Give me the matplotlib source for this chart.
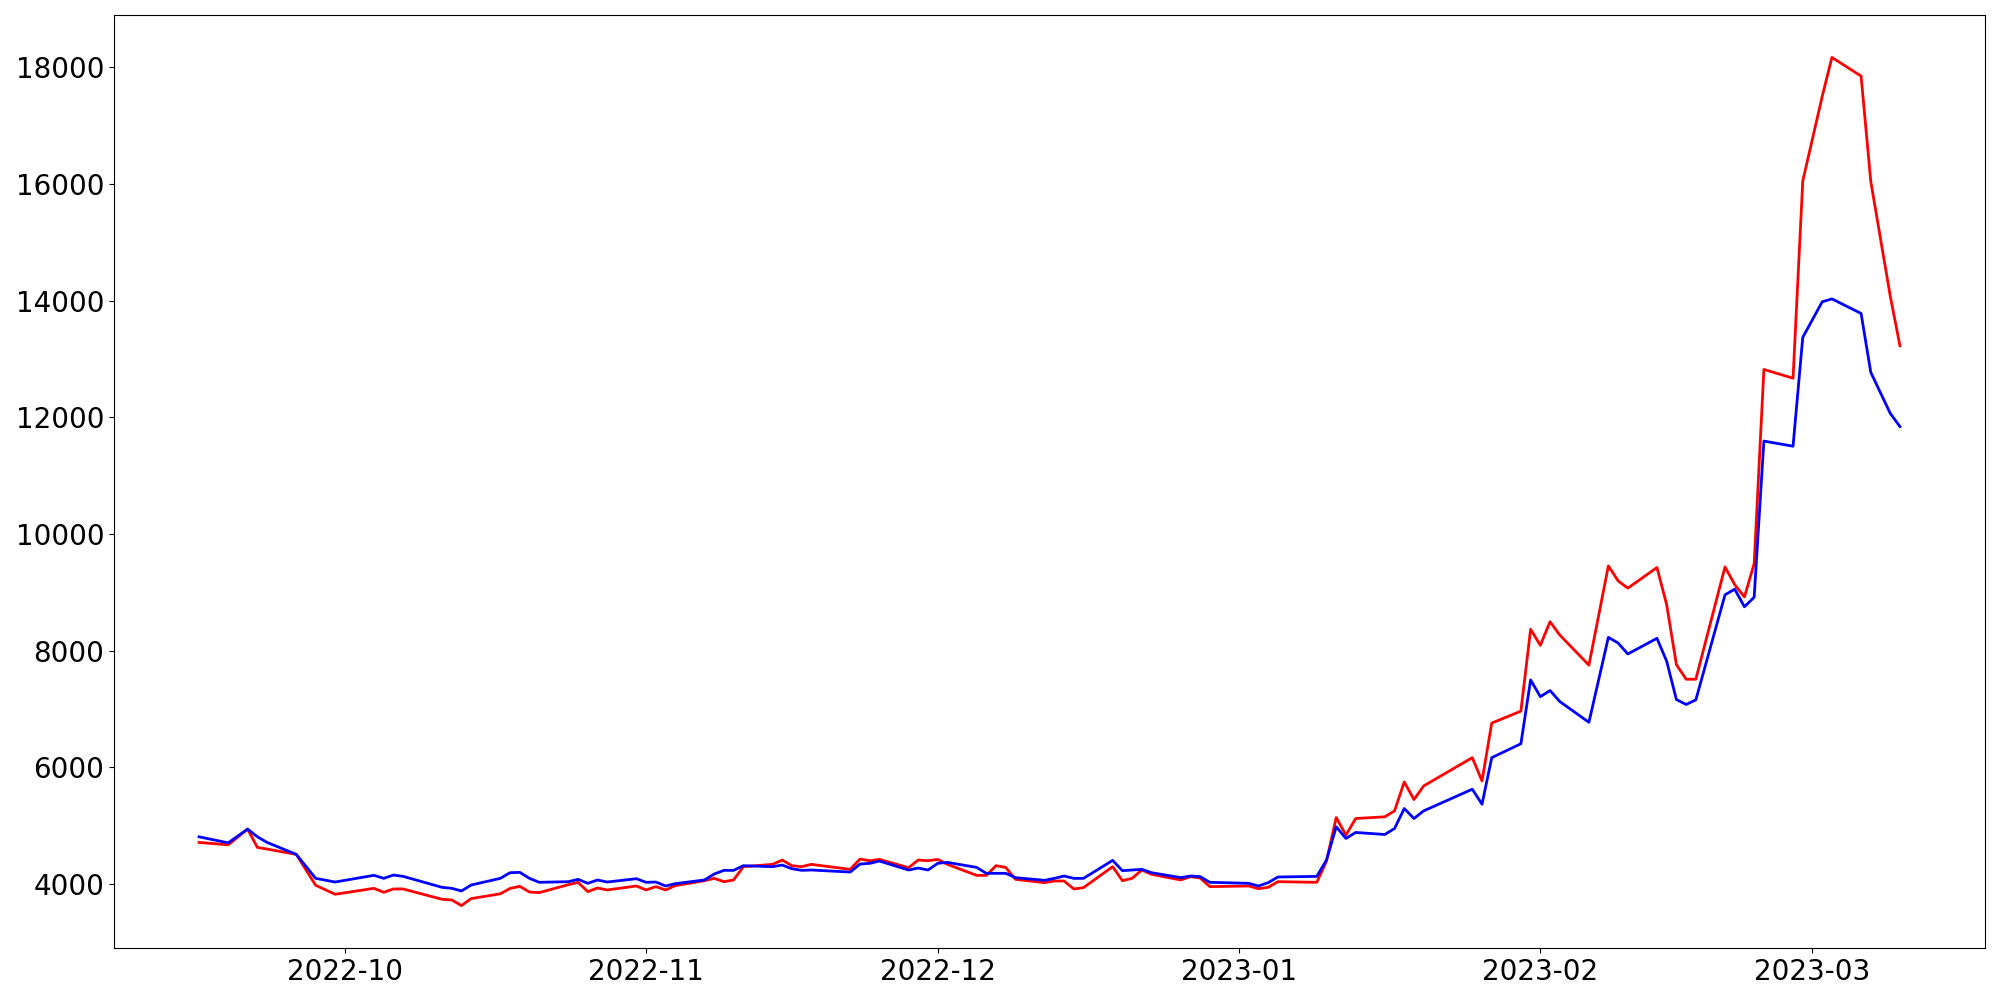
import pandas as pd
import matplotlib
matplotlib.use("Agg")
import matplotlib.pyplot as plt
import matplotlib.dates as mdates

# trading days
dates = [
    "2022-09-16", "2022-09-19", "2022-09-21", "2022-09-22", "2022-09-23",
    "2022-09-26", "2022-09-28", "2022-09-30", "2022-10-04", "2022-10-05",
    "2022-10-06", "2022-10-07", "2022-10-11", "2022-10-12", "2022-10-13",
    "2022-10-14", "2022-10-17", "2022-10-18", "2022-10-19", "2022-10-20",
    "2022-10-21", "2022-10-24", "2022-10-25", "2022-10-26", "2022-10-27",
    "2022-10-28", "2022-10-31", "2022-11-01", "2022-11-02", "2022-11-03",
    "2022-11-04", "2022-11-07", "2022-11-08", "2022-11-09", "2022-11-10",
    "2022-11-11", "2022-11-14", "2022-11-15", "2022-11-16", "2022-11-17",
    "2022-11-18", "2022-11-22", "2022-11-23", "2022-11-24", "2022-11-25",
    "2022-11-28", "2022-11-29", "2022-11-30", "2022-12-01", "2022-12-02",
    "2022-12-05", "2022-12-06", "2022-12-07", "2022-12-08", "2022-12-09",
    "2022-12-12", "2022-12-13", "2022-12-14", "2022-12-15", "2022-12-16",
    "2022-12-19", "2022-12-20", "2022-12-21", "2022-12-22", "2022-12-23",
    "2022-12-26", "2022-12-27", "2022-12-28", "2022-12-29", "2023-01-02",
    "2023-01-03", "2023-01-04", "2023-01-05", "2023-01-09", "2023-01-10",
    "2023-01-11", "2023-01-12", "2023-01-13", "2023-01-16", "2023-01-17",
    "2023-01-18", "2023-01-19", "2023-01-20", "2023-01-25", "2023-01-26",
    "2023-01-27", "2023-01-30", "2023-01-31", "2023-02-01", "2023-02-02",
    "2023-02-03", "2023-02-06", "2023-02-08", "2023-02-09", "2023-02-10",
    "2023-02-13", "2023-02-14", "2023-02-15", "2023-02-16", "2023-02-17",
    "2023-02-20", "2023-02-21", "2023-02-22", "2023-02-23", "2023-02-24",
    "2023-02-27", "2023-02-28", "2023-03-02", "2023-03-03", "2023-03-06",
    "2023-03-07", "2023-03-09", "2023-03-10",
]

red_vals = [
    4711, 4670, 4939, 4626, 4597,
    4506, 3976, 3822, 3924, 3856,
    3913, 3913, 3736, 3725, 3628,
    3748, 3830, 3922, 3958, 3861,
    3850, 3987, 4027, 3867, 3930,
    3896, 3964, 3896, 3953, 3896,
    3970, 4055, 4095, 4038, 4067,
    4295, 4335, 4409, 4312, 4295,
    4335, 4249, 4426, 4397, 4420,
    4278, 4409, 4397, 4420, 4335,
    4146, 4146, 4312, 4283, 4078,
    4021, 4050, 4050, 3913, 3936,
    4295, 4055, 4095, 4238, 4164,
    4067, 4124, 4101, 3953, 3964,
    3918, 3941, 4038, 4027, 4392,
    5138, 4836, 5121, 5150, 5252,
    5748, 5446, 5680, 6164, 5765,
    6757, 6962, 8366, 8090, 8495,
    8267, 7750, 9452, 9196, 9070,
    9424, 8785, 7760, 7509, 7509,
    9435, 9130, 8920, 9490, 12820,
    12670, 16050, 17500, 18170, 17850,
    16040, 14080, 13225,
]

blue_vals = [
    4807, 4704, 4939, 4808, 4711,
    4506, 4095, 4032, 4147, 4095,
    4152, 4129, 3941, 3924, 3879,
    3981, 4095, 4192, 4198, 4095,
    4027, 4038, 4078, 4010, 4067,
    4032, 4089, 4027, 4032, 3964,
    4004, 4067, 4169, 4232, 4232,
    4312, 4295, 4323, 4260, 4232,
    4238, 4203, 4340, 4352, 4392,
    4238, 4272, 4238, 4352, 4369,
    4283, 4181, 4181, 4181, 4107,
    4061, 4095, 4135, 4095, 4095,
    4403, 4226, 4238, 4249, 4192,
    4107, 4135, 4124, 4027, 4010,
    3964, 4021, 4118, 4129, 4409,
    4979, 4779, 4882, 4847, 4950,
    5292, 5121, 5252, 5623, 5366,
    6164, 6403, 7497, 7210, 7315,
    7127, 6770, 8227, 8130, 7942,
    8210, 7817, 7161, 7076, 7155,
    8956, 9053, 8751, 8915, 11592,
    11504, 13370, 13980, 14030, 13780,
    12770, 12068, 11840,
]

x = pd.to_datetime(dates)

fig, ax = plt.subplots(figsize=(20, 10), dpi=100)
ax.plot(x, red_vals, color="red", linewidth=2)
ax.plot(x, blue_vals, color="blue", linewidth=2)

ax.xaxis.set_major_locator(mdates.MonthLocator())
ax.xaxis.set_major_formatter(mdates.DateFormatter("%Y-%m"))
ax.tick_params(labelsize=20)

plt.subplots_adjust(left=0.057, right=0.9925, top=0.985, bottom=0.052)
plt.savefig("out.png")
